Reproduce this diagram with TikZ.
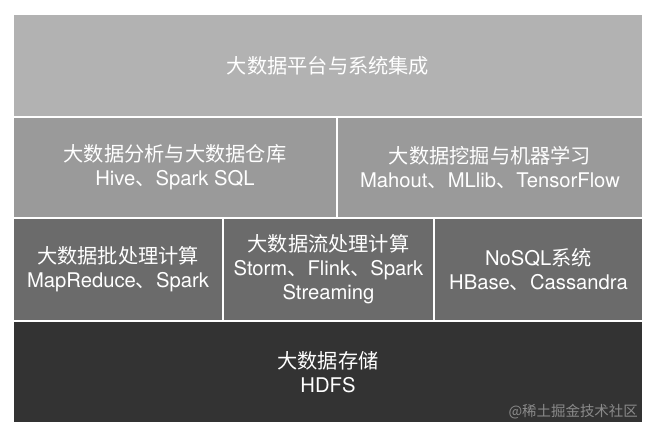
\documentclass[tikz,border=0pt]{standalone}
\usepackage{fontspec}
\setmainfont{TeX Gyre Heros}
\newfontfamily\cjk{Noto Sans CJK SC}
\newcommand{\dunhao}{{\cjk 、}}
\definecolor{platgray}{HTML}{B2B2B2}
\definecolor{anagray}{HTML}{9A9A9A}
\definecolor{calcgray}{HTML}{6B6B6B}
\definecolor{storegray}{HTML}{333333}
\definecolor{markgray}{HTML}{8A8A8A}

\begin{document}
\begin{tikzpicture}[x=1bp, y=-1bp, layer/.style={draw=none, inner sep=0pt, text=white, align=center, font=\fontsize{20.3}{24}\selectfont}]
        \useasboundingbox (0,0) rectangle (653,435);
        \node[layer, fill=platgray, minimum width=628bp, minimum height=101bp] (plat) at (328,65.5) {\cjk 大数据平台与系统集成};
        \node[layer, fill=anagray, minimum width=322bp, minimum height=99bp] (ana) at (175,167.5) {{\cjk 大数据分析与大数据仓库}\\Hive\dunhao Spark SQL};
        \node[layer, fill=anagray, minimum width=304bp, minimum height=99bp] (mine) at (490,167.5) {{\cjk 大数据挖掘与机器学习}\\Mahout\dunhao MLlib\dunhao TensorFlow};
        \node[layer, fill=calcgray, minimum width=208bp, minimum height=101bp] (batch) at (118,269.5) {{\cjk 大数据批处理计算}\\MapReduce\dunhao Spark};
        \node[layer, fill=calcgray, minimum width=209bp, minimum height=101bp] (stream) at (328.5,269.5) {{\cjk 大数据流处理计算}\\Storm\dunhao Flink\dunhao Spark\\Streaming};
        \node[layer, fill=calcgray, minimum width=207bp, minimum height=101bp] (nosql) at (538.5,269.5) {NoSQL{\cjk 系统}\\HBase\dunhao Cassandra};
        \node[layer, fill=storegray, minimum width=628bp, minimum height=100bp] (store) at (328,372) {{\cjk 大数据存储}\\HDFS};

        % watermark
        \node[anchor=east, inner sep=0pt, text=markgray, font=\cjk\fontsize{14.5}{15}\selectfont] (mark) at (638,412) {@稀土掘金技术社区};
    \end{tikzpicture}
\end{document}
